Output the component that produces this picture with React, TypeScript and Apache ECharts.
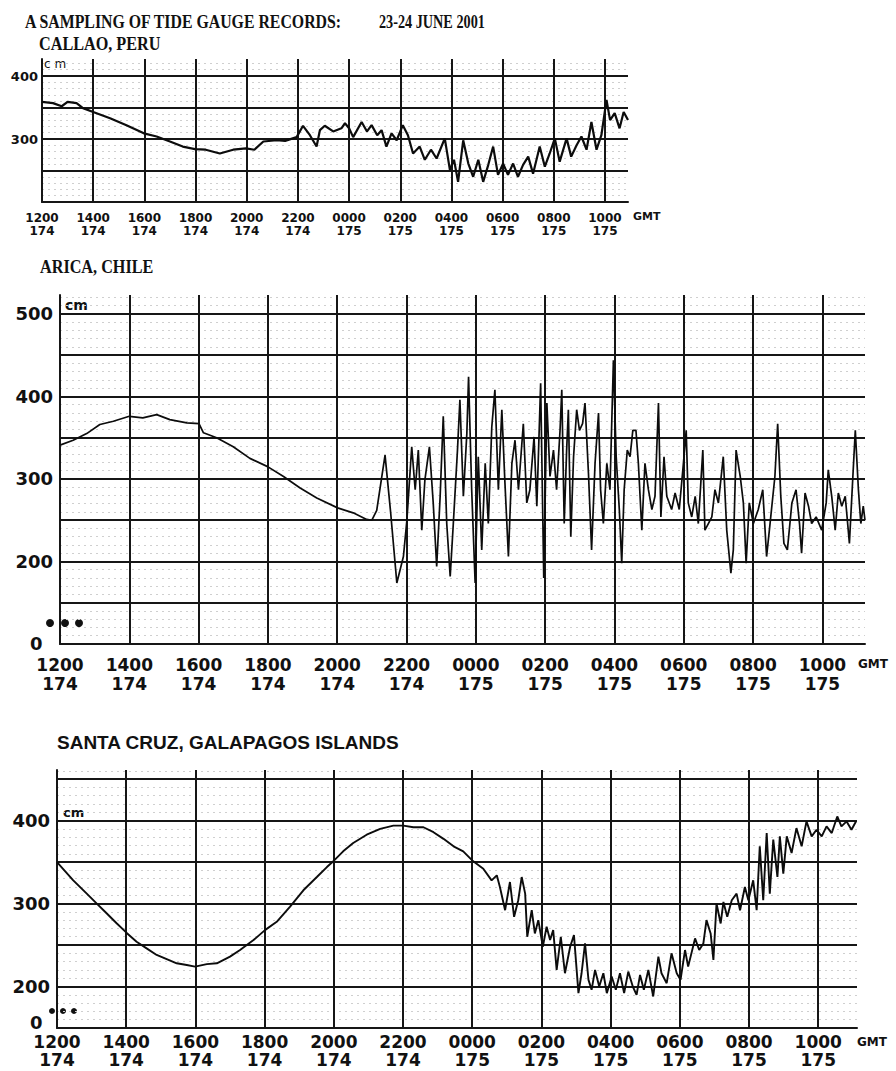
import React, { useEffect, useRef } from "react";
import * as echarts from "echarts";

// ---- tick labels ----
const timeLabels = ["1200", "1400", "1600", "1800", "2000", "2200", "0000", "0200", "0400", "0600", "0800", "1000"];
const dayLabels = ["174", "174", "174", "174", "174", "174", "175", "175", "175", "175", "175", "175"];

// ---- Callao, Peru (hours after 1200 GMT day 174, sea level cm) ----
const callaoHours = [0, 0.43, 0.77, 1.0, 1.35, 1.6, 2.0, 2.66, 3.3, 3.98, 4.48, 5.0, 5.5, 5.98, 6.4, 6.95, 7.47, 7.97, 8.3, 8.65, 9.17, 9.5, 9.95, 10.2, 10.47, 10.73, 10.86, 11.05, 11.38, 11.7, 11.84, 12.0, 12.16, 12.49, 12.7, 12.88, 13.1, 13.27, 13.46, 13.66, 13.86, 14.1, 14.3, 14.5, 14.76, 14.96, 15.2, 15.42, 15.74, 15.94, 16.1, 16.26, 16.46, 16.66, 16.85, 17.05, 17.24, 17.44, 17.63, 17.82, 18.02, 18.21, 18.41, 18.6, 18.8, 19.0, 19.19, 19.45, 19.65, 19.84, 20.04, 20.23, 20.5, 20.68, 20.89, 21.08, 21.28, 21.47, 21.67, 21.86, 22.06, 22.2, 22.38, 22.57, 22.73, 22.9];
const callaoCm = [359, 357, 352, 359, 357, 349, 343, 333, 322, 309, 304, 296, 288, 284, 283, 277, 283, 285, 283, 296, 298, 297, 303, 321, 306, 288, 314, 321, 312, 317, 325, 317, 303, 327, 312, 322, 306, 314, 288, 309, 298, 322, 306, 277, 288, 267, 283, 269, 301, 251, 267, 232, 298, 261, 240, 267, 232, 259, 288, 243, 261, 243, 261, 240, 259, 272, 245, 288, 256, 277, 301, 264, 301, 272, 290, 304, 283, 327, 283, 306, 362, 330, 341, 317, 343, 330];

// ---- Arica, Chile ----
const aricaHours = [0, 0.38, 0.77, 1.15, 1.54, 2.0, 2.39, 2.79, 3.17, 3.66, 4.01, 4.14, 4.52, 5.0, 5.48, 5.99, 6.45, 6.93, 7.41, 8.01, 8.46, 8.85, 9.0, 9.14, 9.38, 9.54, 9.72, 9.91, 10.01, 10.15, 10.25, 10.34, 10.44, 10.53, 10.66, 10.77, 10.87, 10.97, 11.06, 11.16, 11.26, 11.35, 11.47, 11.54, 11.64, 11.74, 11.79, 11.88, 11.98, 12.07, 12.17, 12.27, 12.36, 12.46, 12.55, 12.65, 12.75, 12.84, 12.94, 13.04, 13.13, 13.23, 13.37, 13.47, 13.56, 13.68, 13.76, 13.87, 13.96, 14.05, 14.14, 14.24, 14.33, 14.43, 14.48, 14.55, 14.62, 14.67, 14.74, 14.82, 14.91, 14.99, 15.08, 15.15, 15.25, 15.34, 15.44, 15.54, 15.6, 15.68, 15.78, 15.87, 15.97, 16.05, 16.14, 16.21, 16.28, 16.37, 16.45, 16.53, 16.62, 16.69, 16.79, 16.88, 16.98, 17.08, 17.17, 17.27, 17.34, 17.43, 17.51, 17.65, 17.75, 17.87, 17.99, 18.07, 18.13, 18.23, 18.33, 18.42, 18.55, 18.61, 18.71, 18.81, 18.9, 19.0, 19.14, 19.24, 19.36, 19.43, 19.51, 19.63, 19.72, 19.8, 19.89, 20.01, 20.15, 20.28, 20.39, 20.49, 20.63, 20.71, 20.8, 20.89, 20.99, 21.12, 21.24, 21.34, 21.4, 21.5, 21.6, 21.69, 21.82, 21.98, 22.11, 22.17, 22.27, 22.37, 22.46, 22.56, 22.66, 22.78, 22.88, 22.95, 23.04, 23.11, 23.18, 23.23];
const aricaCm = [341, 347, 355, 366, 370, 376, 374, 378, 372, 368, 367, 356, 350, 339, 325, 315, 303, 289, 277, 265, 259, 251, 250, 262, 329, 260, 174, 206, 250, 339, 287, 335, 238, 299, 339, 271, 194, 279, 376, 246, 182, 246, 335, 396, 279, 355, 424, 287, 174, 327, 214, 319, 246, 363, 408, 287, 384, 295, 206, 319, 347, 287, 367, 271, 287, 351, 267, 416, 180, 392, 303, 335, 287, 359, 408, 246, 335, 384, 230, 327, 384, 359, 367, 392, 307, 214, 319, 380, 287, 246, 319, 287, 444, 327, 263, 198, 287, 335, 327, 359, 359, 319, 238, 319, 287, 263, 279, 392, 254, 327, 279, 263, 283, 263, 319, 359, 271, 254, 279, 246, 335, 238, 246, 254, 287, 271, 327, 238, 186, 214, 335, 303, 271, 198, 271, 246, 263, 287, 206, 246, 303, 367, 279, 222, 214, 271, 287, 246, 210, 283, 267, 246, 254, 238, 271, 311, 279, 238, 283, 267, 279, 222, 303, 359, 287, 246, 267, 250];

// ---- Santa Cruz, Galapagos Islands ----
const santaCruzHours = [0, 0.47, 0.86, 1.15, 1.44, 1.73, 2.03, 2.3, 2.59, 2.88, 3.17, 3.46, 3.75, 3.99, 4.33, 4.62, 5.0, 5.29, 5.68, 6.01, 6.35, 6.73, 7.12, 7.51, 7.8, 8.01, 8.27, 8.56, 8.95, 9.34, 9.72, 10.01, 10.3, 10.59, 10.88, 11.17, 11.46, 11.74, 12.0, 12.32, 12.56, 12.71, 12.8, 12.95, 13.09, 13.21, 13.33, 13.43, 13.53, 13.59, 13.72, 13.81, 13.91, 14.04, 14.15, 14.25, 14.34, 14.44, 14.56, 14.68, 14.83, 14.94, 15.07, 15.16, 15.26, 15.36, 15.45, 15.55, 15.67, 15.79, 15.89, 16.03, 16.15, 16.27, 16.39, 16.51, 16.64, 16.75, 16.85, 16.96, 17.09, 17.23, 17.38, 17.47, 17.62, 17.76, 17.91, 18.02, 18.15, 18.24, 18.44, 18.56, 18.68, 18.77, 18.89, 18.97, 19.06, 19.18, 19.26, 19.37, 19.5, 19.64, 19.74, 19.88, 19.98, 20.12, 20.22, 20.31, 20.41, 20.51, 20.6, 20.7, 20.82, 20.89, 20.99, 21.09, 21.23, 21.37, 21.52, 21.66, 21.81, 21.95, 22.1, 22.24, 22.39, 22.55, 22.67, 22.82, 22.96, 23.09];
const santaCruzCm = [350, 328, 312, 300, 288, 276, 264, 254, 246, 238, 233, 228, 226, 224, 227, 228, 236, 244, 256, 268, 278, 296, 316, 332, 344, 352, 363, 373, 383, 390, 394, 394, 392, 392, 386, 378, 369, 363, 352, 342, 328, 334, 320, 292, 326, 284, 304, 332, 312, 260, 292, 264, 280, 248, 272, 256, 268, 220, 260, 216, 248, 262, 192, 216, 252, 208, 196, 220, 200, 216, 192, 212, 196, 216, 192, 218, 200, 190, 214, 196, 220, 188, 236, 216, 204, 240, 216, 208, 244, 224, 258, 244, 252, 280, 264, 232, 300, 276, 302, 284, 304, 312, 292, 320, 304, 328, 292, 369, 304, 385, 312, 377, 332, 381, 336, 381, 361, 391, 369, 399, 381, 389, 381, 393, 385, 405, 393, 399, 389, 399];

const zip = (xs: number[], ys: number[]) => xs.map((x, i) => [x, ys[i]]);

const INK = "#161616";
const LABEL_FONT = "DejaVu Sans";

function xLabel(v: number) {
  const r = Math.round(v);
  if (Math.abs(v - r) > 1e-6 || r % 2 !== 0) return "";
  const i = r / 2;
  if (i < 0 || i >= timeLabels.length) return "";
  return timeLabels[i] + "\n" + dayLabels[i];
}

function makeX(gridIndex: number, max: number, fontSize: number, lineHeight: number, margin: number) {
  return {
    type: "value",
    gridIndex,
    min: 0,
    max,
    interval: 2,
    axisLine: { show: true, lineStyle: { color: INK, width: 2 } },
    axisTick: { show: false },
    axisLabel: {
      formatter: xLabel,
      color: "#111",
      fontFamily: LABEL_FONT,
      fontWeight: "bold",
      fontSize,
      lineHeight,
      margin,
      showMaxLabel: false,
    },
    splitLine: { show: true, showMinLine: false, showMaxLine: false, lineStyle: { color: INK, width: 2 } },
  };
}

function makeY(gridIndex: number, min: number, max: number, fontSize: number, margin: number) {
  return {
    type: "value",
    gridIndex,
    min,
    max,
    interval: 50,
    axisLine: { show: true, lineStyle: { color: INK, width: 2 } },
    axisTick: { show: false },
    axisLabel: {
      formatter: (v: number) => (v % 100 === 0 && v >= 200 ? String(v) : ""),
      color: "#111",
      fontFamily: LABEL_FONT,
      fontWeight: "bold",
      fontSize,
      margin,
      showMaxLabel: false,
      showMinLabel: false,
    },
    minorTick: { show: false, splitNumber: 5 },
    minorSplitLine: { show: true, lineStyle: { color: "#cfcfcf", width: 1, type: [2, 4] } },
    splitLine: { show: true, showMinLine: false, showMaxLine: false, lineStyle: { color: INK, width: 2 } },
  };
}

function lineSeries(idx: number, data: number[][], width: number) {
  return {
    type: "line",
    xAxisIndex: idx,
    yAxisIndex: idx,
    data,
    showSymbol: false,
    symbol: "none",
    lineStyle: { color: "#0c0c0c", width },
    z: 5,
  };
}

function txt(x: number, y: number, text: string, font: string, extra: any = {}) {
  const { scaleX, ...rest } = extra;
  return {
    type: "text",
    x,
    y,
    scaleX: scaleX ?? 1,
    silent: true,
    style: { text, font, fill: "#111", align: "left", verticalAlign: "middle", ...rest },
  };
}

function dot(cx: number, cy: number, r: number) {
  return { type: "circle", shape: { cx, cy, r }, style: { fill: "#111" }, silent: true };
}

export default function App() {
  const ref = useRef<HTMLDivElement>(null);
  useEffect(() => {
    if (!ref.current) return;
    const chart = echarts.init(ref.current, null, { renderer: "svg" });
    const serifB = "bold 18px 'Liberation Serif'";
    chart.setOption({
      animation: false,
      backgroundColor: "#ffffff",
      grid: [
        { left: 42, top: 59, width: 586, height: 143, outerBoundsMode: "none" },
        { left: 60, top: 295, width: 805, height: 349, outerBoundsMode: "none" },
        { left: 57, top: 770, width: 800, height: 258, outerBoundsMode: "none" },
      ],
      xAxis: [
        makeX(0, 22.9, 12, 13, 9),
        makeX(1, 23.23, 17, 19, 11),
        makeX(2, 23.12, 17, 18, 5),
      ],
      yAxis: [
        makeY(0, 200, 427, 13, 4),
        makeY(1, 100, 523, 18, 7),
        makeY(2, 150, 461, 18, 7),
      ],
      series: [
        lineSeries(0, zip(callaoHours, callaoCm), 2.2),
        lineSeries(1, zip(aricaHours, aricaCm), 1.7),
        lineSeries(2, zip(santaCruzHours, santaCruzCm), 1.9),
      ],
      graphic: [
        txt(25, 22, "A SAMPLING OF TIDE GAUGE RECORDS:", serifB, { scaleX: 0.88 }),
        txt(379, 22, "23-24 JUNE 2001", serifB, { scaleX: 0.79 }),
        txt(39, 44, "CALLAO, PERU", serifB, { scaleX: 0.9 }),
        txt(44, 64, "c m", "12px 'DejaVu Sans'"),
        txt(633, 216, "GMT", "bold 11px 'DejaVu Sans'"),
        txt(40, 267, "ARICA, CHILE", serifB, { scaleX: 0.9 }),
        txt(65, 305, "cm", "bold 14px 'DejaVu Sans'"),
        txt(30, 643, "0", "bold 18px 'DejaVu Sans'"),
        txt(858, 664, "GMT", "bold 12px 'DejaVu Sans'"),
        dot(50, 623, 4),
        dot(65, 623, 4),
        dot(79, 623, 4),
        txt(57, 742, "SANTA CRUZ, GALAPAGOS ISLANDS", "bold 19px 'Liberation Sans'"),
        txt(63, 812, "cm", "bold 13px 'DejaVu Sans'"),
        txt(30, 1022, "0", "bold 18px 'DejaVu Sans'"),
        txt(857, 1042, "GMT", "bold 12px 'DejaVu Sans'"),
        dot(52, 1011, 3),
        dot(63, 1011, 3),
        dot(74, 1011, 3),
      ],
    });
    return () => chart.dispose();
  }, []);
  return (
    <div
      ref={ref}
      style={{ position: "absolute", left: 0, top: 0, width: 896, height: 1071, background: "#fff" }}
    />
  );
}
